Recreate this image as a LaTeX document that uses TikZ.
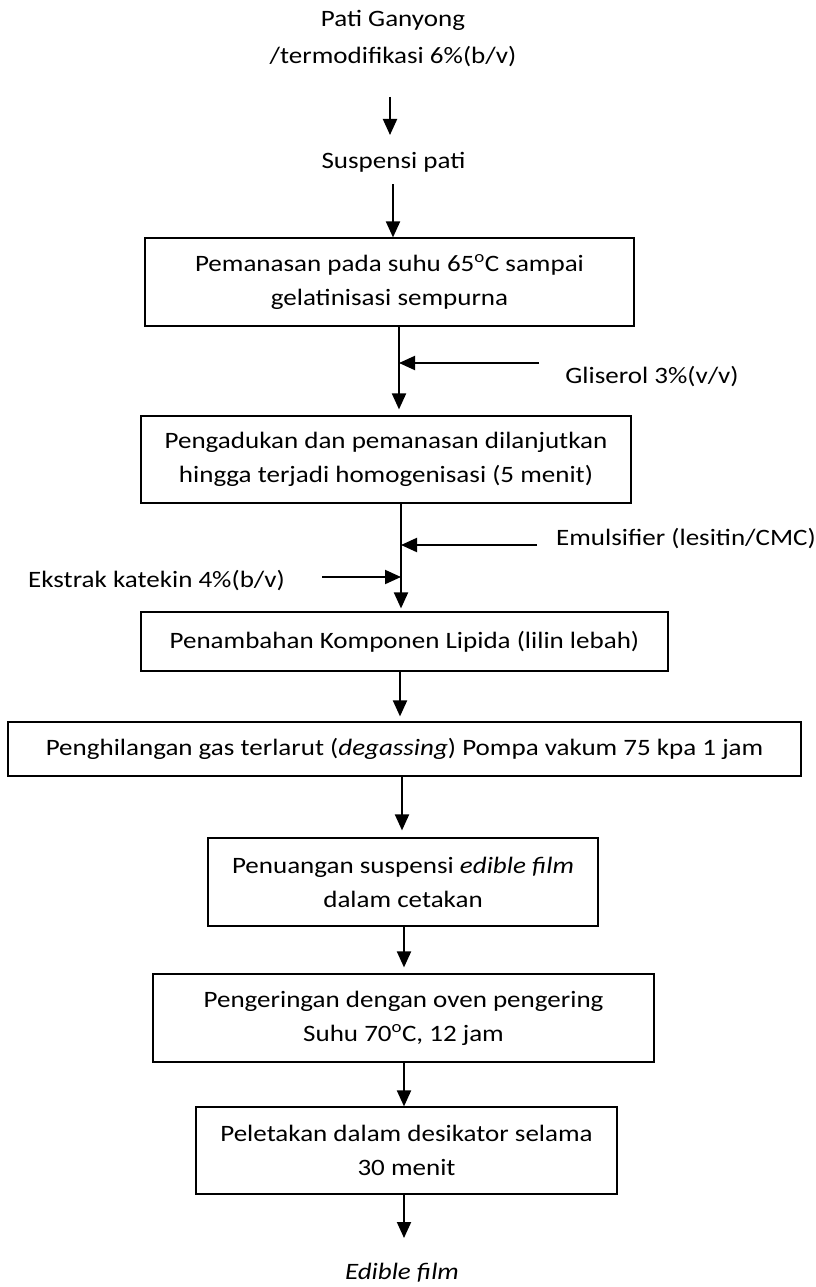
\documentclass[tikz,border=0pt]{standalone}
\usepackage{fontspec}
\setmainfont{Carlito}[FakeStretch=1.15]
\usetikzlibrary{arrows.meta,calc}
\begin{document}
\begin{tikzpicture}[x=1pt,y=-1pt,
  every node/.style={font=\fontsize{23.5}{34}\selectfont, inner sep=0pt, align=center},
  box/.style={draw, line width=1.2pt},
  flow/.style={line width=2pt, -{Triangle[length=16pt,width=14pt]}}]
\useasboundingbox (0,0) rectangle (815,1287);
% texts
\node (t1) at (393,38.5) {Pati Ganyong\\[3pt]/termodifikasi 6\%(b/v)};
\node (t2) at (393.5,162) {Suspensi pati};
\node[box, minimum width=489pt, minimum height=88pt] (b1) at (389.5,282) {Pemanasan pada suhu 65\textsuperscript{o}C sampai\\gelatinisasi sempurna};
\node[box, minimum width=490pt, minimum height=87pt] (b2) at (386,459.5) {Pengadukan dan pemanasan dilanjutkan\\hingga terjadi homogenisasi (5 menit)};
\node[box, minimum width=527pt, minimum height=59pt] (b3) at (404.5,641.5) {Penambahan Komponen Lipida (lilin lebah)};
\node[box, minimum width=793pt, minimum height=54pt] (b4) at (404.5,749) {Penghilangan gas terlarut (\textit{degassing}) Pompa vakum 75 kpa 1 jam};
\node[box, minimum width=390pt, minimum height=88pt] (b5) at (403,882) {Penuangan suspensi \textit{edible film}\\dalam cetakan};
\node[box, minimum width=501pt, minimum height=88pt] (b6) at (403.5,1018) {Pengeringan dengan oven pengering\\Suhu 70\textsuperscript{o}C, 12 jam};
\node[box, minimum width=421pt, minimum height=87pt] (b7) at (406.5,1150.5) {Peletakan dalam desikator selama\\30 menit};
\node (t3) at (402,1273) {\textit{Edible film}};
\node (gl) at (652,377) {Gliserol 3\%(v/v)};
\node (em) at (686,539) {Emulsifier (lesitin/CMC)};
\node (ek) at (156.5,581) {Ekstrak katekin 4\%(b/v)};
% connector coordinates
\coordinate (a1s) at (390,97);
\coordinate (a1e) at (390,135);
\coordinate (a2s) at (393,184);
\coordinate (m3) at (399,0);
\coordinate (m4) at (401,0);
\coordinate (m5) at (400,0);
\coordinate (m6) at (402,0);
\coordinate (m7) at (404,0);
\coordinate (g0) at (539,363);
\coordinate (e0) at (537,545);
\coordinate (k0) at (322,577);
\coordinate (a9e) at (404,1238);
% arrows
\draw[flow] (a1s) -- (a1e);
\draw[flow] (a2s) -- (a2s |- b1.north);
\draw[flow] (b1.south -| m3) -- ($(b2.north -| m3)+(0,-6)$);
\draw[flow] (g0) -- (m3 |- g0);
\draw[flow] (b2.south -| m4) -- ($(b3.north -| m4)+(0,-3)$);
\draw[flow] (e0) -- (m4 |- e0);
\draw[flow] (k0) -- (m4 |- k0);
\draw[flow] (b3.south -| m5) -- ($(b4.north -| m5)+(0,-5)$);
\draw[flow] (b4.south -| m6) -- ($(b5.north -| m6)+(0,-7)$);
\draw[flow] (b5.south -| m7) -- ($(b6.north -| m7)+(0,-6)$);
\draw[flow] (b6.south -| m7) -- (b7.north -| m7);
\draw[flow] (b7.south -| m7) -- (a9e);
\end{tikzpicture}
\end{document}
